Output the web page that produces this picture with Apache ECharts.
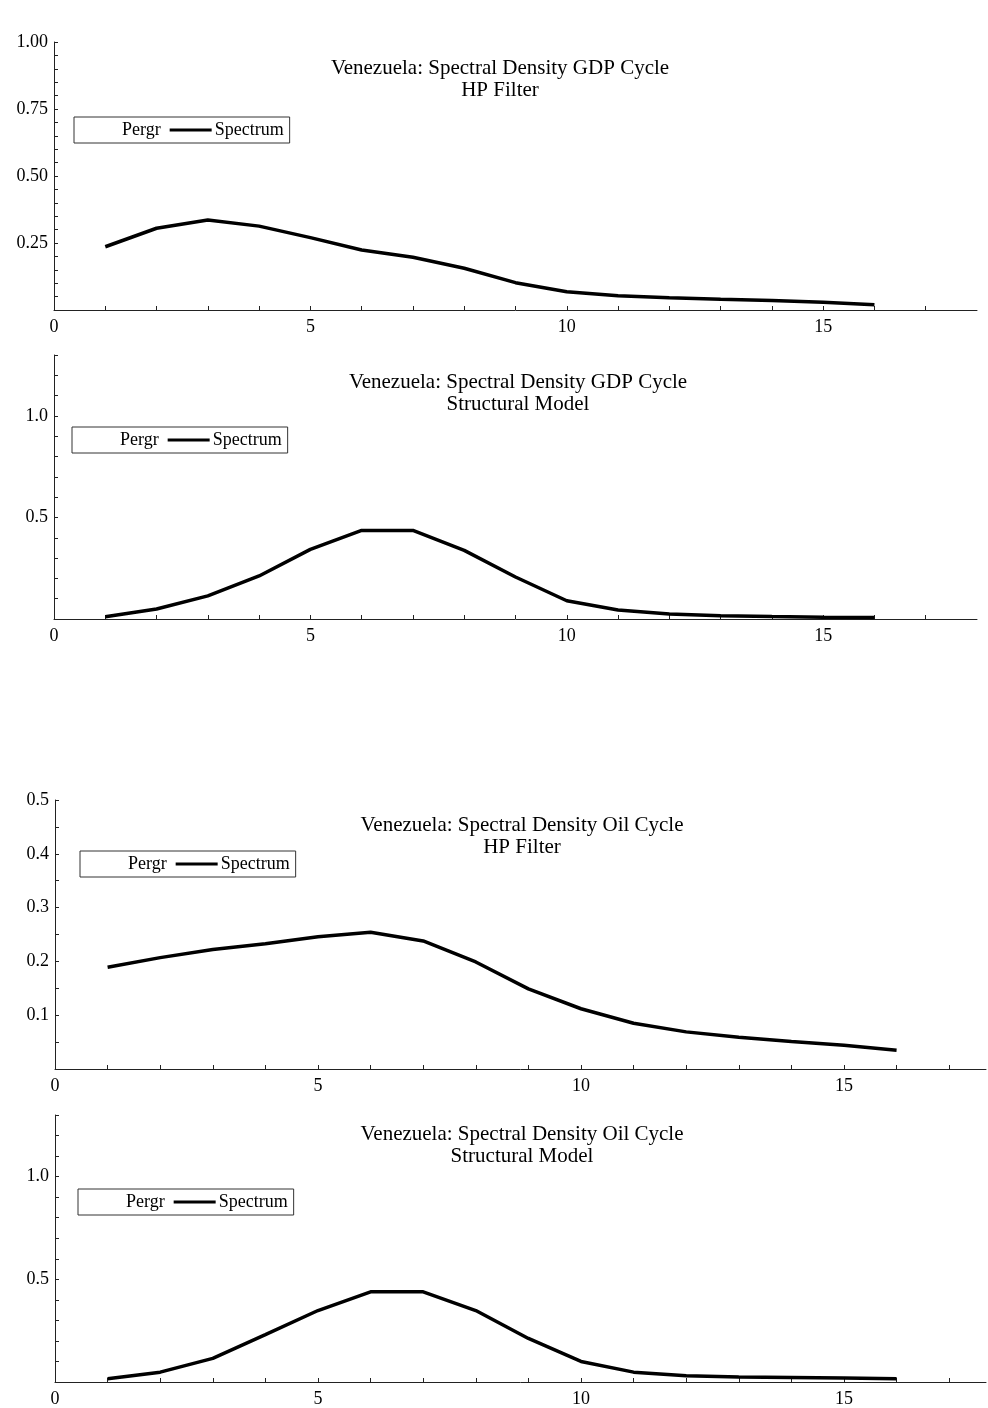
<!DOCTYPE html>
<html lang="en">
<head>
    <meta charset="UTF-8">
    <title>Venezuela Spectral Density</title>
    <script src="https://cdn.jsdelivr.net/npm/echarts@6/dist/echarts.min.js"></script>
    <style>
        body { margin: 0; padding: 0; background: #fff; }
        #chart { width: 988px; height: 1408px; }
    </style>
</head>
<body>
<div id="chart"></div>
<script>
    // frequencies (x) and spectrum values
    const freq = [1, 2, 3, 4, 5, 6, 7, 8, 9, 10, 11, 12, 13, 14, 15, 16];
    const gdpHp = [0.236, 0.305, 0.336, 0.313, 0.270, 0.224, 0.197, 0.156, 0.102, 0.068, 0.053, 0.046, 0.040, 0.035, 0.029, 0.020];
    const gdpStruct = [0.011, 0.049, 0.114, 0.212, 0.343, 0.436, 0.436, 0.338, 0.207, 0.090, 0.044, 0.025, 0.016, 0.012, 0.009, 0.007];
    const oilHp = [0.189, 0.207, 0.222, 0.233, 0.246, 0.254, 0.238, 0.199, 0.149, 0.112, 0.085, 0.069, 0.059, 0.051, 0.044, 0.035];
    const oilStruct = [0.016, 0.048, 0.115, 0.231, 0.348, 0.439, 0.439, 0.348, 0.212, 0.100, 0.048, 0.030, 0.024, 0.022, 0.019, 0.016];

    // tick labels
    const xLabels = [0, 5, 10, 15];
    const yLabelsGdpHp = [0.25, 0.50, 0.75, 1.00];
    const yLabelsStruct = [0.5, 1.0];
    const yLabelsOilHp = [0.1, 0.2, 0.3, 0.4, 0.5];

    const titles = [
        'Venezuela: Spectral Density GDP Cycle\nHP Filter',
        'Venezuela: Spectral Density GDP Cycle\nStructural Model',
        'Venezuela: Spectral Density Oil Cycle\nHP Filter',
        'Venezuela: Spectral Density Oil Cycle\nStructural Model'
    ];

    const serif = '"Liberation Serif", "DejaVu Serif", serif';

    // layout of each panel (pixels)
    const panels = [
        { grid: { left: 54, top: 42, width: 923, height: 268 }, xMax: 18, yMax: 1.0, yStep: 0.05, yLabels: yLabelsGdpHp, digits: 2,
          title: [500, 57], legend: [74, 117], values: gdpHp },
        { grid: { left: 54, top: 355, width: 923, height: 264 }, xMax: 18, yMax: 1.3, yStep: 0.1, yLabels: yLabelsStruct, digits: 1,
          title: [518, 371], legend: [72, 427], values: gdpStruct },
        { grid: { left: 55, top: 800, width: 931, height: 269 }, xMax: 17.7, yMax: 0.5, yStep: 0.05, yLabels: yLabelsOilHp, digits: 1,
          title: [522, 814], legend: [80, 851], values: oilHp },
        { grid: { left: 55, top: 1115, width: 931, height: 269 }, xMax: 17.7, yMax: 1.3, yStep: 0.1, yLabels: yLabelsStruct, digits: 1,
          title: [522, 1123], legend: [78, 1189], values: oilStruct }
    ];

    const grids = [], xAxes = [], yAxes = [], series = [], legends = [], graphics = [];

    panels.forEach((p, k) => {
        grids.push(p.grid);

        xAxes.push({
            gridIndex: k,
            type: 'value',
            min: 0,
            max: p.xMax,
            interval: 1,
            splitLine: { show: false },
            axisLine: { lineStyle: { color: '#222', width: 1 } },
            axisTick: { inside: true, length: 4, lineStyle: { color: '#222' } },
            axisLabel: {
                color: '#000',
                fontFamily: serif,
                fontSize: 18,
                margin: 8,
                showMaxLabel: false,
                formatter: v => xLabels.includes(Math.round(v * 100) / 100) ? String(Math.round(v)) : ''
            }
        });

        yAxes.push({
            gridIndex: k,
            type: 'value',
            min: 0,
            max: p.yMax,
            interval: p.yStep,
            splitLine: { show: false },
            axisLine: { show: true, lineStyle: { color: '#222', width: 1 } },
            axisTick: { inside: true, length: 4, lineStyle: { color: '#222' } },
            axisLabel: {
                color: '#000',
                fontFamily: serif,
                fontSize: 18,
                margin: 6,
                formatter: v => {
                    const r = Math.round(v * 100) / 100;
                    return p.yLabels.includes(r) ? r.toFixed(p.digits) : '';
                }
            }
        });

        // periodogram not drawn in the original, only listed in the legend
        series.push({
            name: 'Pergr',
            type: 'line',
            xAxisIndex: k,
            yAxisIndex: k,
            data: [],
            symbol: 'none',
            color: '#fff',
            lineStyle: { color: '#fff' }
        });

        series.push({
            name: 'Spectrum',
            type: 'line',
            xAxisIndex: k,
            yAxisIndex: k,
            data: freq.map((f, i) => [f, p.values[i]]),
            symbol: 'none',
            color: '#000',
            lineStyle: { color: '#000', width: 3.5 },
            silent: true
        });

        legends.push({
            data: [
                { name: 'Pergr', icon: 'rect', itemStyle: { color: '#fff' } },
                { name: 'Spectrum', icon: 'rect', itemStyle: { color: '#000' } }
            ],
            left: p.legend[0],
            top: p.legend[1],
            orient: 'horizontal',
            selectedMode: false,
            borderColor: '#333',
            borderWidth: 1,
            borderRadius: 0,
            padding: [4, 6, 4, 3],
            itemGap: 9,
            itemWidth: 42,
            itemHeight: 3,
            textStyle: { color: '#000', fontFamily: serif, fontSize: 18, lineHeight: 18, padding: [0, 0, 0, -2] }
        });

        graphics.push({
            type: 'text',
            x: p.title[0],
            y: p.title[1],
            style: {
                text: titles[k],
                align: 'center',
                textAlign: 'center',
                verticalAlign: 'top',
                font: '21px ' + serif,
                lineHeight: 22,
                fill: '#000'
            }
        });
    });

    const chart = echarts.init(document.getElementById('chart'));
    chart.setOption({
        animation: false,
        backgroundColor: '#fff',
        grid: grids,
        xAxis: xAxes,
        yAxis: yAxes,
        legend: legends,
        graphic: graphics,
        series: series
    });
</script>
</body>
</html>
